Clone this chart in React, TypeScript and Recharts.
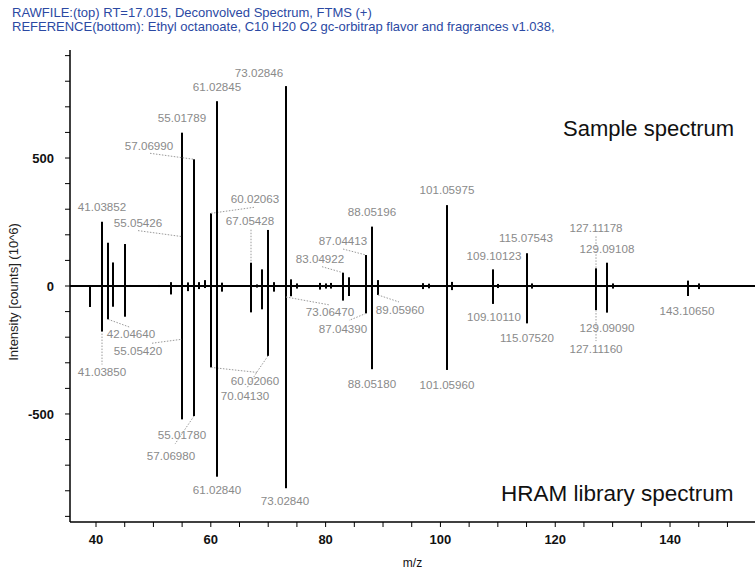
import React from 'react';
import { ComposedChart, Bar, XAxis, YAxis, ReferenceLine } from 'recharts';

// ---- data ----
const mzValues = [39.02, 41.0385, 42.0464, 43.0, 45.0, 46.0, 51.0, 53.0, 54.0, 55.0179, 55.0543, 56.0, 57.0699, 58.0, 59.0, 60.0206, 61.0285, 62.0, 65.0, 67.0543, 68.0, 69.0, 70.0413, 71.0, 73.0285, 73.0647, 74.0, 75.0, 77.0, 79.0, 80.0, 81.0, 83.0492, 84.0, 87.0441, 88.052, 89.0596, 96.0, 97.0, 98.0, 101.0598, 102.0, 103.0, 107.0, 109.1012, 110.0, 115.0754, 116.0, 125.0, 127.1118, 128.0, 129.0911, 130.0, 143.1065, 144.0, 145.0];
const sampleIntensity = [0, 251, 169, 92, 164, 4, 4, 15, 4, 599, 193, 14, 495, 15, 23, 284, 722, 13, 3, 91, 6, 65, 219, 15, 781, 0, 26, 10, 3, 12, 10, 12, 52, 34, 121, 232, 23, 3, 11, 9, 316, 16, 3, 3, 65, 8, 128, 10, 3, 69, 4, 91, 10, 21, 3, 10];
const libraryIntensity = [-82, -178, -130, -81, -120, 0, -4, -33, -4, -521, -208, -20, -508, -12, -8, -318, -745, -22, -3, -103, -6, -91, -273, -22, -790, -43, -40, -10, -3, -14, -10, -10, -57, -39, -107, -325, -35, -3, -12, -9, -328, -16, -3, -3, -70, -8, -146, -10, -3, -94, -4, -104, -10, -39, -3, -12];
const sampleLabels = ['41.03852', '55.05426', '57.06990', '55.01789', '61.02845', '60.02063', '67.05428', '73.02846', '83.04922', '87.04413', '88.05196', '101.05975', '109.10123', '115.07543', '127.11178', '129.09108'];
const libraryLabels = ['41.03850', '42.04640', '55.05420', '55.01780', '57.06980', '60.02060', '70.04130', '61.02840', '73.02840', '73.06470', '87.04390', '89.05960', '88.05180', '101.05960', '109.10110', '115.07520', '129.09090', '127.11160', '143.10650'];
const xTicks = [40, 45, 50, 55, 60, 65, 70, 75, 80, 85, 90, 95, 100, 105, 110, 115, 120, 125, 130, 135, 140, 145, 150];
const yTicks = [-900, -800, -700, -600, -500, -400, -300, -200, -100, 0, 100, 200, 300, 400, 500, 600, 700, 800, 900];
const titleLines = [
  'RAWFILE:(top) RT=17.015, Deconvolved Spectrum, FTMS (+)',
  'REFERENCE(bottom): Ethyl octanoate, C10 H20 O2 gc-orbitrap flavor and fragrances v1.038,',
];

const findLabel = (labels: string[], mz: number) =>
  labels.find((l) => Math.abs(parseFloat(l) - mz) < 0.01);

const rows = mzValues.map((mz, i) => ({
  mz,
  sample: sampleIntensity[i],
  library: libraryIntensity[i],
  sampleLabel: findLabel(sampleLabels, mz),
  libraryLabel: findLabel(libraryLabels, mz),
}));

// ---- label placement (pixel offsets from peak tip) ----
type Layout = { dx: number; dy: number; leader?: [number, number][] };
const LABEL_LAYOUT: Record<string, Layout> = {
  '41.03852': { dx: 0, dy: -15 },
  '55.05426': { dx: -44, dy: -14, leader: [[-44, -6], [0, 0]] },
  '57.06990': { dx: -45, dy: -13, leader: [[-44, -6], [0, 0]] },
  '55.01789': { dx: 0, dy: -15 },
  '61.02845': { dx: 0, dy: -14 },
  '60.02063': { dx: 44, dy: -14, leader: [[0, 0], [43, -6]] },
  '67.05428': { dx: -1, dy: -42, leader: [[0, -33], [0, 0]] },
  '73.02846': { dx: -27, dy: -13 },
  '83.04922': { dx: -23, dy: -14, leader: [[-21, -6], [0, 0]] },
  '87.04413': { dx: -23, dy: -14, leader: [[-23, -6], [0, 0]] },
  '88.05196': { dx: 0, dy: -15 },
  '101.05975': { dx: 0, dy: -15 },
  '109.10123': { dx: 1, dy: -14 },
  '115.07543': { dx: -1, dy: -15 },
  '127.11178': { dx: 0, dy: -41, leader: [[0, -32], [0, 0]] },
  '129.09108': { dx: 0, dy: -14 },
  '41.03850': { dx: 0, dy: 40, leader: [[0, 2], [0, 33]] },
  '42.04640': { dx: 23, dy: 15, leader: [[0, 0], [22, 8]] },
  '55.05420': { dx: -44, dy: 12, leader: [[-30, 4], [0, 0]] },
  '55.01780': { dx: 0, dy: 15 },
  '57.06980': { dx: -23, dy: 40, leader: [[0, 0], [-19, 28]] },
  '60.02060': { dx: 44, dy: 13, leader: [[0, 0], [46, 5]] },
  '70.04130': { dx: -23, dy: 40, leader: [[0, 0], [-11, 16], [-21, 32]] },
  '61.02840': { dx: 0, dy: 13 },
  '73.02840': { dx: -1, dy: 13 },
  '73.06470': { dx: 44, dy: 15, leader: [[0, 0], [44, 8]] },
  '87.04390': { dx: -23, dy: 15, leader: [[0, 0], [-17, 7]] },
  '89.05960': { dx: 22, dy: 15, leader: [[0, 0], [21, 7]] },
  '88.05180': { dx: 0, dy: 15 },
  '101.05960': { dx: 0, dy: 15 },
  '109.10110': { dx: 1, dy: 13 },
  '115.07520': { dx: 0, dy: 14 },
  '129.09090': { dx: 0, dy: 15 },
  '127.11160': { dx: 0, dy: 39, leader: [[0, 0], [0, 31]] },
  '143.10650': { dx: -1, dy: 15 },
};

const FONT = '"Liberation Sans", Arial, sans-serif';
const LABEL_COLOR = '#8a8a8a';

const makePeakShape = (series: 'sample' | 'library') => (props: any) => {
  const { x, y, width, height, payload } = props;
  if (x == null || y == null || isNaN(x) || isNaN(y)) return <g />;
  const cx = Math.round(x + (width || 0) / 2);
  const y1 = y;
  const y2 = y + (height || 0);
  const top = Math.min(y1, y2);
  const bot = Math.max(y1, y2);
  const tipY = series === 'sample' ? top : bot;
  const label = series === 'sample' ? payload?.sampleLabel : payload?.libraryLabel;
  const layout = label ? LABEL_LAYOUT[label] : undefined;
  return (
    <g>
      <rect x={cx - 1} y={top} width={2} height={Math.max(bot - top, 0)} fill="#000" />
      {layout && layout.leader && (
        <polyline
          points={layout.leader.map(([a, b]) => `${cx + a},${tipY + b}`).join(' ')}
          fill="none"
          stroke="#9a9a9a"
          strokeWidth={1}
          strokeDasharray="1.5 1.5"
        />
      )}
      {layout && (
        <text
          x={cx + layout.dx}
          y={tipY + layout.dy}
          dy="0.36em"
          textAnchor="middle"
          fontFamily={FONT}
          fontSize={11.6}
          fill={LABEL_COLOR}
        >
          {label}
        </text>
      )}
    </g>
  );
};

const renderYLabel = (props: any) => {
  const vb = props.viewBox || { x: 0, y: 50, width: 70, height: 472 };
  const cx = vb.x + 13;
  const cy = vb.y + vb.height / 2 + 6;
  return (
    <text
      x={cx}
      y={cy}
      transform={`rotate(-90 ${cx} ${cy})`}
      textAnchor="middle"
      dominantBaseline="central"
      fontFamily={FONT}
      fontSize={13}
      fill="#222"
    >
      Intensity [counts] (10^6)
    </text>
  );
};

export default function App() {
  return (
    <div style={{ position: 'absolute', left: 0, top: 0, width: 755, height: 569, background: '#fff' }}>
      <ComposedChart
        width={755}
        height={569}
        data={rows}
        stackOffset="sign"
        margin={{ top: 50, right: 0, bottom: 0, left: 0 }}
      >
        <XAxis
          dataKey="mz"
          type="number"
          domain={[35.47, 154.8]}
          allowDataOverflow
          ticks={xTicks}
          interval={0}
          tickFormatter={(v: number) => (v % 20 === 0 ? String(v) : '')}
          height={47}
          tickSize={5}
          tickMargin={8}
          stroke="#000"
          axisLine={{ stroke: '#000', strokeWidth: 1.5 }}
          tickLine={{ stroke: '#000' }}
          tick={{ fontSize: 13, fontWeight: 'bold', fill: '#111', fontFamily: FONT }}
          label={{ value: 'm/z', position: 'insideBottom', offset: 2, fill: '#111', fontSize: 12, fontFamily: FONT }}
        />
        <YAxis
          type="number"
          domain={[-922, 922]}
          allowDataOverflow
          ticks={yTicks}
          interval={0}
          tickFormatter={(v: number) => (v % 500 === 0 ? String(v) : '')}
          width={70}
          tickSize={5}
          tickMargin={11}
          stroke="#000"
          axisLine={{ stroke: '#000', strokeWidth: 1.5 }}
          tickLine={{ stroke: '#000' }}
          tick={{ fontSize: 13, fontWeight: 'bold', fill: '#111', fontFamily: FONT }}
          label={{ content: renderYLabel }}
        />
        <ReferenceLine y={0} stroke="#000" strokeWidth={2} />
        <Bar dataKey="sample" stackId="s" barSize={2} fill="#000" isAnimationActive={false} shape={makePeakShape('sample')} />
        <Bar dataKey="library" stackId="s" barSize={2} fill="#000" isAnimationActive={false} shape={makePeakShape('library')} />
      </ComposedChart>
      <svg
        width={755}
        height={569}
        style={{ position: 'absolute', left: 0, top: 0, pointerEvents: 'none' }}
      >
        {titleLines.map((t, i) => (
          <text key={i} x={12} y={17 + i * 14} fontFamily={FONT} fontSize={13} fill="#2b49a3">
            {t}
          </text>
        ))}
        <text x={563} y={136} fontFamily={FONT} fontSize={22} fill="#111">
          Sample spectrum
        </text>
        <text x={501} y={501} fontFamily={FONT} fontSize={22.5} fill="#111">
          HRAM library spectrum
        </text>
      </svg>
    </div>
  );
}
